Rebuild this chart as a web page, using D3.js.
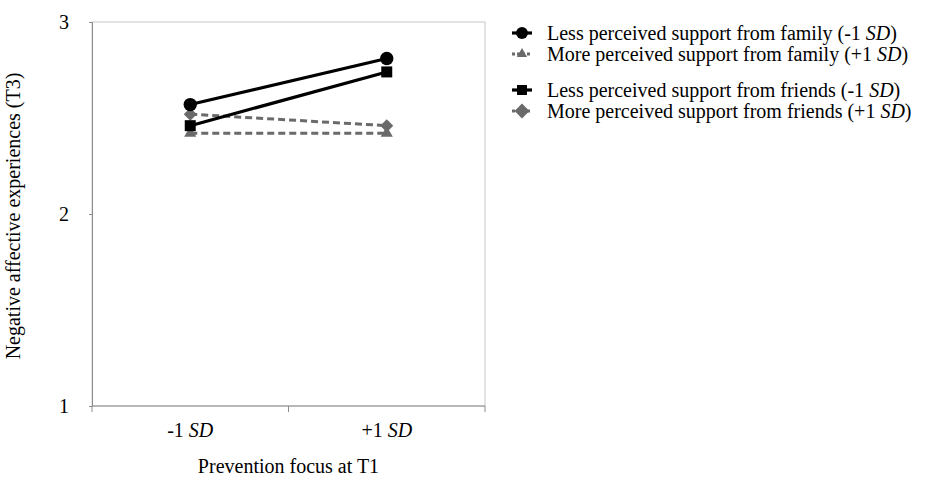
<!DOCTYPE html>
<html><head><meta charset="utf-8">
<script src="https://cdn.jsdelivr.net/npm/d3@7"></script>
<style>body{margin:0;background:#fff;} text{font-family:"Liberation Serif","Times New Roman",serif;}</style>
</head><body><svg id="c" width="932" height="482"></svg>
<script>
const categories = ["-1", "+1"];
const familyLess = [2.57, 2.81];
const familyMore = [2.42, 2.42];
const friendsLess = [2.46, 2.74];
const friendsMore = [2.52, 2.46];
const yTicks = [1, 2, 3];
const seriesNames = [
  "Less perceived support from family (-1 ",
  "More perceived support from family (+1 ",
  "Less perceived support from friends (-1 ",
  "More perceived support from friends (+1 "
];

const FS = 20;
const svg = d3.select("#c");
const L = 92, R = 485, T = 22, B = 406;
const x = d3.scaleBand().domain(categories).range([L, R]);
const y = d3.scaleLinear().domain([1, 3]).range([B, T]);

// frame
svg.append("rect").attr("x", L).attr("y", T).attr("width", R - L).attr("height", B - T)
  .attr("fill", "none").attr("stroke", "#c8c8c8").attr("stroke-width", 1);

// y axis
const ya = svg.append("g").attr("transform", `translate(${L},0)`)
  .call(d3.axisLeft(y).tickValues(yTicks).tickFormat(d3.format("d")).tickSize(3).tickPadding(20));
ya.select(".domain").attr("stroke", "#8c8c8c");
ya.selectAll(".tick line").attr("stroke", "#8c8c8c");
ya.selectAll("text").attr("font-size", FS).attr("fill", "#000").attr("font-family", "Liberation Serif");

// x axis
const xa = svg.append("g").attr("transform", `translate(0,${B})`)
  .call(d3.axisBottom(x).tickSize(0).tickFormat(""));
xa.select(".domain").attr("stroke", "#8c8c8c").attr("d", `M${L},0H${R}`);
const bounds = [L, L + x.bandwidth(), R];
xa.selectAll(".bt").data(bounds).enter().append("line").attr("class", "bt")
  .attr("x1", d => d).attr("x2", d => d).attr("y1", 0).attr("y2", 6).attr("stroke", "#8c8c8c");
categories.forEach(c => {
  const t = svg.append("text").attr("x", x(c) + x.bandwidth() / 2).attr("y", 437)
    .attr("text-anchor", "middle").attr("font-size", FS).attr("fill", "#000");
  t.append("tspan").text(c + " ");
  t.append("tspan").attr("font-style", "italic").text("SD");
});

svg.append("text").attr("x", (L + R) / 2).attr("y", 473).attr("text-anchor", "middle")
  .attr("font-size", FS).text("Prevention focus at T1");
svg.append("text").attr("transform", `translate(20,${(T + B) / 2 + 2}) rotate(-90)`)
  .attr("text-anchor", "middle").attr("font-size", FS).text("Negative affective experiences (T3)");

const cx = c => x(c) + x.bandwidth() / 2;
const series = [
  {vals: familyLess, color: "#000", dash: null, w: 3.2, sym: d3.symbolCircle, size: 140, lsize: 110, rot: 0},
  {vals: familyMore, color: "#6a6a6a", dash: "7,4", w: 3, sym: d3.symbolTriangle, size: 64, lsize: 45, rot: 0},
  {vals: friendsLess, color: "#000", dash: null, w: 3.2, sym: d3.symbolSquare, size: 121, lsize: 100, rot: 0},
  {vals: friendsMore, color: "#6a6a6a", dash: "7,4", w: 3, sym: d3.symbolSquare, size: 85, lsize: 110, rot: 45}
];
const line = d3.line().x((d, i) => cx(categories[i])).y(d => y(d));
const drawOrder = [3, 1, 2, 0];
drawOrder.forEach(k => {
  const s = series[k];
  svg.append("path").attr("d", line(s.vals)).attr("fill", "none").attr("stroke", s.color)
    .attr("stroke-width", s.w).attr("stroke-dasharray", s.dash);
});
drawOrder.forEach(k => {
  const s = series[k];
  svg.selectAll(null).data(s.vals).enter().append("path")
    .attr("d", d3.symbol().type(s.sym).size(s.size))
    .attr("transform", (d, i) => `translate(${cx(categories[i])},${y(d)}) rotate(${s.rot})`)
    .attr("fill", s.color);
});

// legend
const legY = [33, 54, 90, 111];
series.forEach((s, i) => {
  const g = svg.append("g").attr("transform", `translate(522,${legY[i]})`);
  g.append("line").attr("x1", -10).attr("x2", 10).attr("stroke", s.color)
    .attr("stroke-width", s.w).attr("stroke-dasharray", s.dash ? "3,2" : null);
  g.append("path").attr("d", d3.symbol().type(s.sym).size(s.lsize))
    .attr("transform", `rotate(${s.rot})`).attr("fill", s.color);
  const t = svg.append("text").attr("x", 547).attr("y", legY[i] + 7).attr("font-size", FS);
  t.append("tspan").text(seriesNames[i]);
  t.append("tspan").attr("font-style", "italic").text("SD");
  t.append("tspan").text(")");
});
</script></body></html>
